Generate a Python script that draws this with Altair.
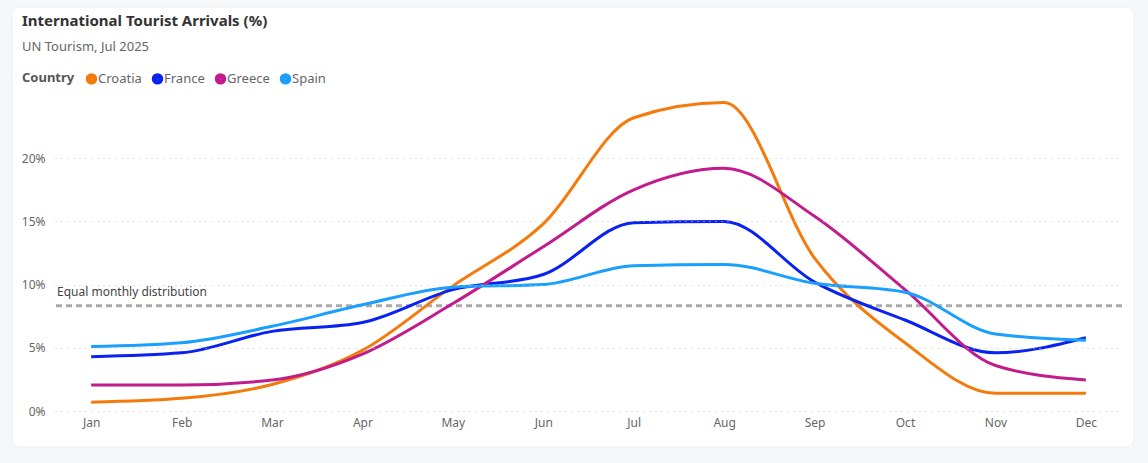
import altair as alt
import pandas as pd

months = ["Jan", "Feb", "Mar", "Apr", "May", "Jun", "Jul", "Aug", "Sep", "Oct", "Nov", "Dec"]
countries = ["Croatia", "France", "Greece", "Spain"]
croatia = [0.7, 1.0, 2.1, 4.8, 9.9, 14.8, 23.2, 24.4, 12.1, 5.4, 1.4, 1.4]
france = [4.3, 4.6, 6.3, 7.0, 9.6, 10.8, 14.9, 15.0, 10.2, 7.2, 4.6, 5.8]
greece = [2.05, 2.05, 2.45, 4.5, 8.5, 13.0, 17.5, 19.2, 15.4, 9.6, 3.6, 2.45]
spain = [5.1, 5.4, 6.7, 8.4, 9.8, 10.0, 11.5, 11.6, 10.1, 9.4, 6.1, 5.6]
colors = ["#F57A0C", "#0A22F0", "#C21C8C", "#1A9FFF"]
equal_share = [100 / 12]
y_ticks = [0, 5, 10, 15, 20]

series = {"Croatia": croatia, "France": france, "Greece": greece, "Spain": spain}
rows = []
for c in countries:
    for m, v in zip(months, series[c]):
        rows.append({"Month": m, "Country": c, "Value": v})
df = pd.DataFrame(rows)

FONT = "Noto Sans"
W, H = 1067, 316

card = alt.Chart(alt.Data(values=[{}])).mark_rect(
    fill="white", stroke="#eceef1", strokeWidth=1, cornerRadius=8
).encode(
    x=alt.value(-43), x2=alt.value(1079), y=alt.value(-88), y2=alt.value(352)
)

lines = alt.Chart(df).mark_line(strokeWidth=3, interpolate="monotone").encode(
    x=alt.X("Month:N", sort=months, title=None,
            scale=alt.Scale(type="point", padding=0.4),
            axis=alt.Axis(labelAngle=0, domain=False, ticks=False, grid=False,
                          labelColor="#666", labelFontSize=12, labelFont=FONT,
                          labelPadding=6, zindex=1)),
    y=alt.Y("Value:Q", title=None, scale=alt.Scale(domain=[0, 25], nice=False),
            axis=alt.Axis(values=y_ticks, labelExpr="datum.value + '%'",
                          domain=False, ticks=False, grid=True,
                          gridColor="#c8c8c8", gridDash=[1, 5], gridWidth=1,
                          labelColor="#666", labelFontSize=12, labelFont=FONT,
                          labelPadding=10, zindex=1)),
    color=alt.Color("Country:N", sort=countries,
                    scale=alt.Scale(domain=countries, range=colors),
                    legend=alt.Legend(orient="none", legendX=-33, legendY=-23,
                                      direction="horizontal", titleOrient="left",
                                      titleBaseline="top", titleAnchor="start",
                                      title="Country", titleFont=FONT,
                                      titleFontSize=13, titleFontWeight="bold",
                                      titleColor="#555", labelFont=FONT,
                                      labelFontSize=13, labelColor="#666",
                                      symbolType="circle", symbolSize=30,
                                      symbolStrokeWidth=6, symbolOpacity=1,
                                      labelOffset=0, columnPadding=0,
                                      titlePadding=10)),
)

ref_df = pd.DataFrame({"y": equal_share, "label": ["Equal monthly distribution"]})
rule = alt.Chart(ref_df).mark_rule(color="#aaaaaa", strokeWidth=3, strokeDash=[6, 4]).encode(
    y="y:Q"
)
ref_text = alt.Chart(ref_df).mark_text(
    align="left", baseline="bottom", dx=0, dy=-7, font=FONT, fontSize=12, color="#444"
).encode(x=alt.value(2), y="y:Q", text="label:N")

chart = alt.layer(card, rule, lines, ref_text).properties(
    width=W, height=H,
    title=alt.TitleParams(
        text="International Tourist Arrivals (%)",
        subtitle="UN Tourism, Jul 2025",
        anchor="start", frame="group", font=FONT, fontSize=15, fontWeight="bold",
        color="#333", subtitleFont=FONT, subtitleFontSize=13, subtitleColor="#666",
        subtitlePadding=12, dx=-33, offset=0, dy=47,
    ),
    autosize=alt.AutoSizeParams(type="none"),
    padding={"left": 55, "top": 95, "right": 26, "bottom": 52},
    background="#f6f7f9",
).configure_view(stroke=None)

chart.save("out.html", embed_options={"renderer": "svg", "actions": False})
